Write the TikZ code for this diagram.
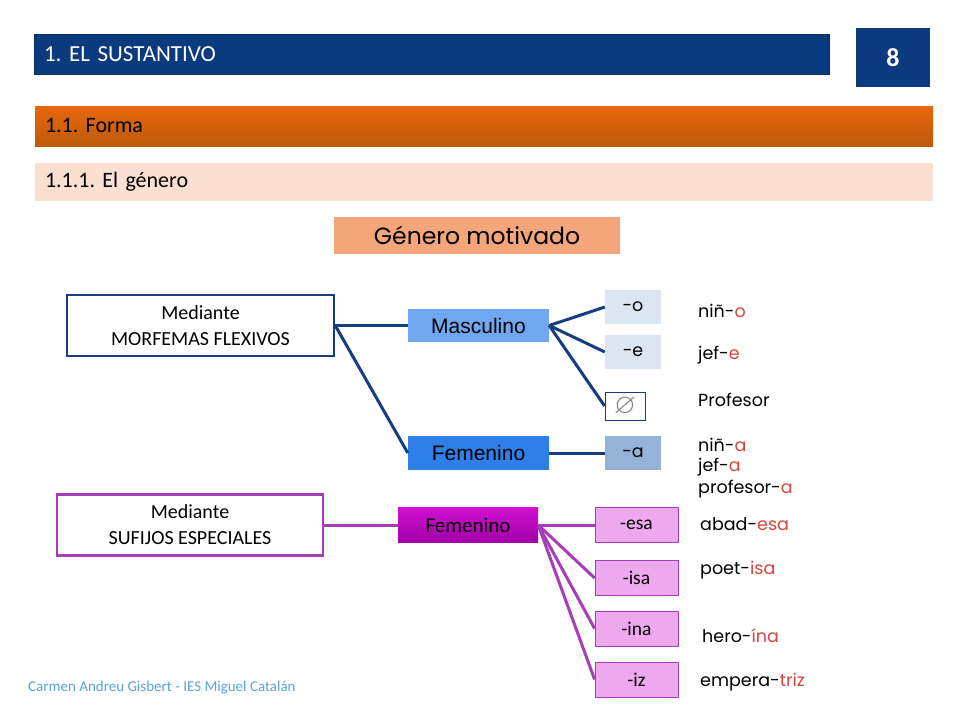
\documentclass[tikz,border=0pt]{standalone}
\usepackage{amssymb}
\usepackage{fontspec}
\setmainfont{Carlito}
\newfontfamily\gothic{Poppins}
\newfontfamily\arial{Liberation Sans}
\definecolor{navy}{HTML}{0B3A7E}
\definecolor{lineblue}{HTML}{173D80}
\definecolor{orangetop}{HTML}{E8680A}
\definecolor{orangebot}{HTML}{BC5A0C}
\definecolor{peach}{HTML}{FBE0D2}
\definecolor{salmon}{HTML}{F4A57A}
\definecolor{mascblue}{HTML}{6FA8F0}
\definecolor{femblue}{HTML}{2F7FEA}
\definecolor{palemorph}{HTML}{DCE6F2}
\definecolor{morphA}{HTML}{95B3D7}
\definecolor{purpleline}{HTML}{A83DB8}
\definecolor{magtop}{HTML}{D010D0}
\definecolor{magbot}{HTML}{A000A8}
\definecolor{pinkbox}{HTML}{EEA8EE}
\definecolor{suffred}{HTML}{D9453F}
\definecolor{footblue}{HTML}{5BA3D9}
\frenchspacing
\begin{document}
\begin{tikzpicture}[x=1pt,y=-1pt,
    bar/.style={inner xsep=10pt,inner ysep=0pt,minimum height=#1,align=left},
    morph/.style={inner sep=0pt,minimum width=56pt,minimum height=34pt,fill=palemorph,font=\gothic\fontsize{17.5}{20}\selectfont},
    suffix/.style={inner sep=0pt,minimum width=83pt,minimum height=35pt,fill=pinkbox,draw=purpleline,line width=0.8pt,font=\fontsize{19.5}{22}\selectfont},
    example/.style={anchor=west,inner sep=0pt,font=\gothic\fontsize{17.5}{20}\selectfont},
    mediante/.style={inner sep=0pt,minimum width=#1,minimum height=61pt,fill=white,line width=2.5pt,align=center,font=\fontsize{20}{26}\selectfont},
    blueline/.style={draw=lineblue,line width=3pt},
    pinkline/.style={draw=purpleline,line width=3pt}]
\useasboundingbox (0,0) rectangle (960,720);
\fill[white] (0,0) rectangle (960,720);

% headings
\node[bar=40pt,text width=775pt,fill=navy,draw=navy!80!black,line width=1pt,text=white,font=\fontsize{23}{26}\selectfont] (t) at (431.5,54) {1. EL SUSTANTIVO};
\node[inner sep=0pt,minimum width=74pt,minimum height=59pt,fill=navy,text=white,font=\bfseries\fontsize{26}{30}\selectfont] (p) at (893,57.5) {8};
\node[bar=40pt,text width=878pt,top color=orangetop,bottom color=orangebot,font=\fontsize{22}{25}\selectfont] (f) at (484,126) {1.1. Forma};
\node[bar=38pt,text width=878pt,fill=peach,font=\fontsize{22}{25}\selectfont] (g) at (484,182) {1.1.1. El género};
\node[inner sep=0pt,minimum width=286pt,minimum height=37pt,fill=salmon,font=\gothic\fontsize{23.5}{26}\selectfont] (gm) at (477,235.5) {Género motivado};

% morfemas flexivos
\node[mediante=267pt,draw=lineblue] (1) at (200.5,325.5) {Mediante\\MORFEMAS FLEXIVOS};
\node[inner sep=0pt,minimum width=141pt,minimum height=33pt,fill=mascblue,font=\arial\fontsize{21}{24}\selectfont] (2) at (478.5,325.5) {Masculino};
\node[inner sep=0pt,minimum width=141pt,minimum height=34pt,fill=femblue,font=\arial\fontsize{21}{24}\selectfont] (3) at (478.5,453) {Femenino};
\node[morph] (4) at (633,307) {-o};
\node[morph] (5) at (633,352) {-e};
\node[inner sep=0pt,minimum width=40pt,minimum height=28pt,draw=lineblue,line width=0.8pt,text=gray,font=\fontsize{28}{28}\selectfont] (6) at (625,406) {$\varnothing$};
\node[morph,fill=morphA] (7) at (633,453) {-a};

\node[example] (e1) at (698,311) {niñ-\textcolor{suffred}{o}};
\node[example] (e2) at (698,355) {jef-\textcolor{suffred}{e}};
\node[example] (e3) at (698,400) {Profesor};
\node[example] (e4) at (698,445) {niñ-\textcolor{suffred}{a}};
\node[example] (e5) at (698,467) {jef-\textcolor{suffred}{a}};
\node[example] (e6) at (698,489) {profesor-\textcolor{suffred}{a}};

\path[blueline] (1.east) edge (2.west);
\path[blueline] (1.east) edge (3.west);
\path[blueline] (2.east) edge (4.west);
\path[blueline] (2.east) edge (5.west);
\path[blueline] (2.east) edge (6.west);
\path[blueline] (3.east) edge (7.west);

% sufijos especiales
\node[mediante=266pt,draw=purpleline] (8) at (190,525) {Mediante\\SUFIJOS ESPECIALES};
\node[inner sep=0pt,minimum width=140pt,minimum height=35pt,top color=magtop,bottom color=magbot,font=\fontsize{21}{24}\selectfont] (9) at (468,525) {Femenino};
\node[suffix] (10) at (636.5,525) {-esa};
\node[suffix] (11) at (636.5,578) {-isa};
\node[suffix] (12) at (636.5,628.5) {-ina};
\node[suffix] (13) at (636.5,679.5) {-iz};

\node[example] (e7) at (700,524) {abad-\textcolor{suffred}{esa}};
\node[example] (e8) at (700,570) {poet-\textcolor{suffred}{isa}};
\node[example] (e9) at (702,636) {hero-\textcolor{suffred}{ína}};
\node[example] (e10) at (700,682) {empera-\textcolor{suffred}{triz}};

\path[pinkline] (8.east) edge (9.west);
\path[pinkline] (9.east) edge (10.west);
\path[pinkline] (9.east) edge (11.west);
\path[pinkline] (9.east) edge (12.west);
\path[pinkline] (9.east) edge (13.west);

% footer
\node[anchor=west,inner sep=0pt,text=footblue,font=\fontsize{15}{17}\selectfont] (c) at (28,688) {Carmen Andreu Gisbert - IES Miguel Catalán};
\end{tikzpicture}
\end{document}
